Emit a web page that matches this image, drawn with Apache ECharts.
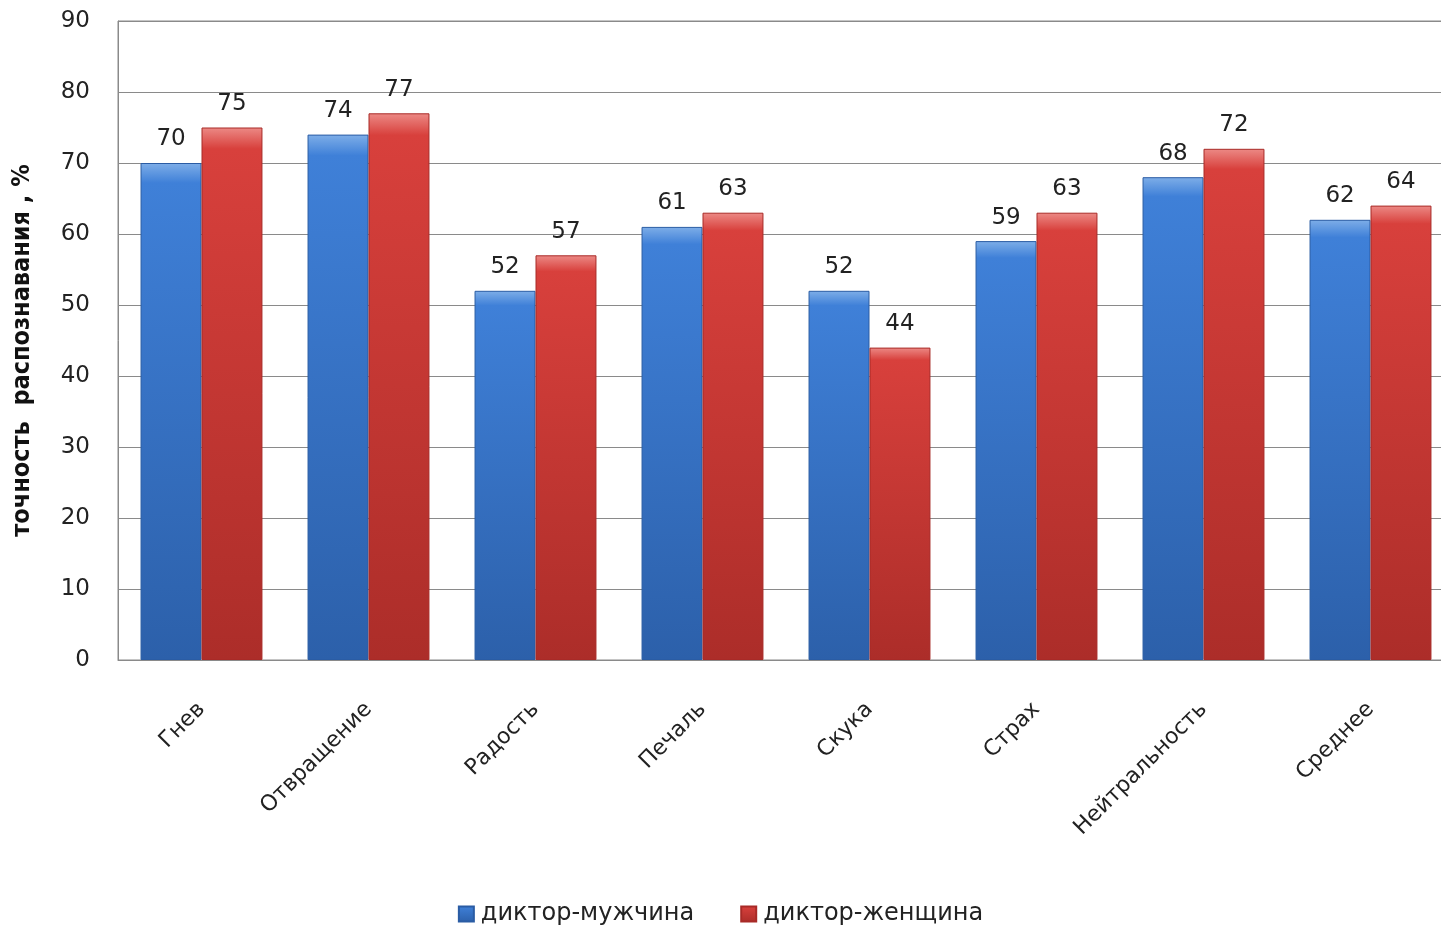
<!DOCTYPE html>
<html>
<head>
<meta charset="utf-8">
<script src="https://cdn.jsdelivr.net/npm/echarts@6/dist/echarts.min.js"></script>
<style>
  html, body { margin: 0; padding: 0; background: #fff; overflow: hidden; }
  #chart { width: 1441px; height: 925px; }
</style>
</head>
<body>
<div id="chart"></div>
<script>
// Emotion categories along the x axis
const categories = ['Гнев', 'Отвращение', 'Радость', 'Печаль', 'Скука', 'Страх', 'Нейтральность', 'Среднее'];
// Recognition accuracy, %
const maleSpeaker = [70, 74, 52, 61, 52, 59, 68, 62];
const femaleSpeaker = [75, 77, 57, 63, 44, 63, 72, 64];
const seriesNames = ['диктор-мужчина', 'диктор-женщина'];
const yAxisTitle = 'точность  распознавания , %';

const font = 'DejaVu Sans, Verdana, sans-serif';
const titleFont = '"Liberation Sans Narrow", "DejaVu Sans Condensed", "Liberation Sans", sans-serif';

// Vertical shading: lighter top edge, darker towards the base
function barFill(top, mid, bottom) {
  return new echarts.graphic.LinearGradient(0, 0, 0, 1, [
    { offset: 0, color: top },
    { offset: 0.04, color: mid },
    { offset: 1, color: bottom }
  ]);
}

const chart = echarts.init(document.getElementById('chart'));
chart.setOption({
  animation: false,
  grid: {
    left: 118, top: 21, bottom: 265, width: 1336,
    outerBoundsMode: 'none',
    show: true, borderColor: '#8a8a8a', borderWidth: 1, backgroundColor: '#fff'
  },
  legend: {
    top: 897, left: 'center',
    itemWidth: 15, itemHeight: 15, itemGap: 46,
    icon: 'rect',
    textStyle: { fontFamily: font, fontSize: 24, color: '#222', padding: [0, 0, 0, 2] },
    data: seriesNames
  },
  xAxis: {
    type: 'category',
    data: categories,
    axisLine: { lineStyle: { color: '#8a8a8a' } },
    axisTick: { show: false },
    axisLabel: {
      rotate: 45, interval: 0, margin: 46,
      fontFamily: font, fontSize: 22, color: '#222'
    }
  },
  yAxis: {
    type: 'value', min: 0, max: 90, interval: 10,
    name: yAxisTitle,
    nameLocation: 'middle', nameGap: 83, nameRotate: 90,
    nameTextStyle: { fontFamily: titleFont, fontSize: 25, fontWeight: 'bold', color: '#111', padding: [0, 20, 0, 0] },
    axisLine: { show: true, lineStyle: { color: '#8a8a8a' } },
    axisTick: { show: false },
    axisLabel: { margin: 28, fontFamily: font, fontSize: 23, color: '#222' },
    splitLine: { lineStyle: { color: '#8a8a8a', width: 1 } }
  },
  series: [
    {
      name: seriesNames[0], type: 'bar', data: maleSpeaker,
      barGap: '0%', barCategoryGap: '27%',
      color: '#3a78cc',
      itemStyle: { color: barFill('#7eaee8', '#3f80d8', '#2c60aa'), borderColor: '#2a5ca4', borderWidth: 1 },
      label: { show: true, position: 'top', distance: 12, fontFamily: font, fontSize: 23, color: '#222' }
    },
    {
      name: seriesNames[1], type: 'bar', data: femaleSpeaker,
      color: '#d23a36',
      itemStyle: { color: barFill('#ec8a86', '#d8403c', '#ac2d29'), borderColor: '#a82a27', borderWidth: 1 },
      label: { show: true, position: 'top', distance: 12, fontFamily: font, fontSize: 23, color: '#222' }
    }
  ]
});
</script>
</body>
</html>
